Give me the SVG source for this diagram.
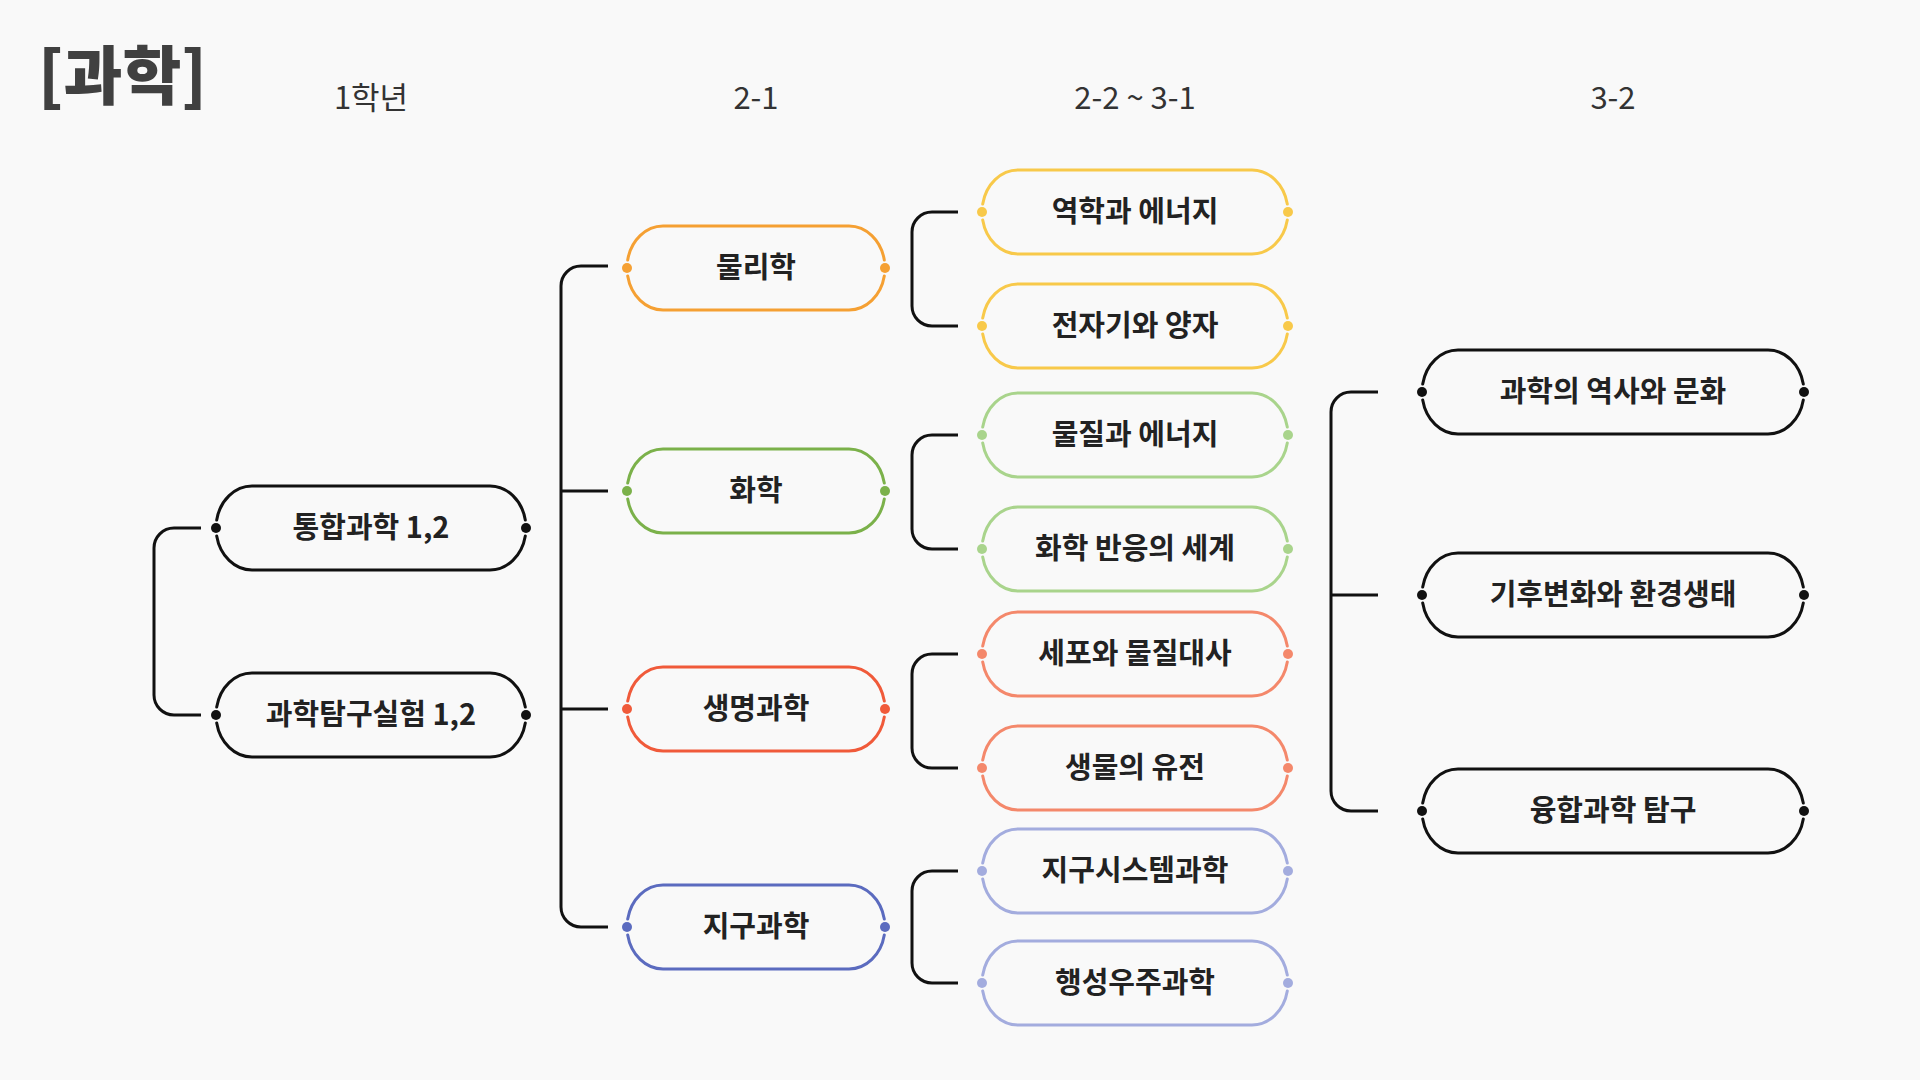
<svg xmlns="http://www.w3.org/2000/svg" width="1920" height="1080" viewBox="0 0 1920 1080">
<style>
.bg{fill:#f9f9f9}
.title{font-family:"Noto Sans CJK KR","Noto Sans",sans-serif;font-weight:900;font-size:64px;fill:#404040}
.hdr{font-family:"Noto Sans CJK KR","Noto Sans",sans-serif;font-weight:400;font-size:31px;fill:#333;text-anchor:middle}
.lbl{font-family:"Noto Sans CJK KR","Noto Sans",sans-serif;font-weight:700;font-size:29px;fill:#222;text-anchor:middle}
.pill{fill:none;stroke-width:3;stroke-linecap:round}
.conn{fill:none;stroke:#111;stroke-width:3}
.k{stroke:#111}.kf{fill:#111}
.or{stroke:#f5a033}.orf{fill:#f5a033}
.gr{stroke:#7bb14a}.grf{fill:#7bb14a}
.rd{stroke:#f05a3a}.rdf{fill:#f05a3a}
.bl{stroke:#5b6bbf}.blf{fill:#5b6bbf}
.ye{stroke:#f8c94a}.yef{fill:#f8c94a}
.lg{stroke:#a9d48c}.lgf{fill:#a9d48c}
.sa{stroke:#f4886b}.saf{fill:#f4886b}
.lv{stroke:#a3acde}.lvf{fill:#a3acde}
</style>
<rect class="bg" x="0" y="0" width="1920" height="1080"/>
<text class="title" x="38" y="99">[과학]</text>
<g id="headers">
<text class="hdr" x="371" y="109">1학년</text>
<text class="hdr" x="756" y="109">2-1</text>
<text class="hdr" x="1135" y="109">2-2 ~ 3-1</text>
<text class="hdr" x="1613" y="109">3-2</text>
</g>
<g id="connectors">
<path class="conn" d="M201 528H174A20 20 0 0 0 154 548V695A20 20 0 0 0 174 715H201"/>
<path class="conn" d="M608 266H581A20 20 0 0 0 561 286V907A20 20 0 0 0 581 927H608M561 491H608M561 709H608"/>
<path class="conn" d="M958 212H932A20 20 0 0 0 912 232V306A20 20 0 0 0 932 326H958"/>
<path class="conn" d="M958 435H932A20 20 0 0 0 912 455V529A20 20 0 0 0 932 549H958"/>
<path class="conn" d="M958 654H932A20 20 0 0 0 912 674V748A20 20 0 0 0 932 768H958"/>
<path class="conn" d="M958 871H932A20 20 0 0 0 912 891V963A20 20 0 0 0 932 983H958"/>
<path class="conn" d="M1378 392H1351A20 20 0 0 0 1331 412V791A20 20 0 0 0 1351 811H1378M1331 595H1378"/>
</g>
<g id="n-tonghap">
<path class="pill k" d="M216.7 520A36 42 0 0 1 252 486H490A36 42 0 0 1 525.3 520M216.7 536A36 42 0 0 0 252 570H490A36 42 0 0 0 525.3 536"/>
<circle class="kf" cx="216" cy="528" r="5"/><circle class="kf" cx="526" cy="528" r="5"/>
<text class="lbl" x="371" y="538">통합과학 1,2</text>
</g>
<g id="n-tamgu">
<path class="pill k" d="M216.7 707A36 42 0 0 1 252 673H490A36 42 0 0 1 525.3 707M216.7 723A36 42 0 0 0 252 757H490A36 42 0 0 0 525.3 723"/>
<circle class="kf" cx="216" cy="715" r="5"/><circle class="kf" cx="526" cy="715" r="5"/>
<text class="lbl" x="371" y="725">과학탐구실험 1,2</text>
</g>
<g id="n-physics">
<path class="pill or" d="M627.7 260A36 42 0 0 1 663 226H849A36 42 0 0 1 884.3 260M627.7 276A36 42 0 0 0 663 310H849A36 42 0 0 0 884.3 276"/>
<circle class="orf" cx="627" cy="268" r="5"/><circle class="orf" cx="885" cy="268" r="5"/>
<text class="lbl" x="756" y="278">물리학</text>
</g>
<g id="n-chem">
<path class="pill gr" d="M627.7 483A36 42 0 0 1 663 449H849A36 42 0 0 1 884.3 483M627.7 499A36 42 0 0 0 663 533H849A36 42 0 0 0 884.3 499"/>
<circle class="grf" cx="627" cy="491" r="5"/><circle class="grf" cx="885" cy="491" r="5"/>
<text class="lbl" x="756" y="501">화학</text>
</g>
<g id="n-bio">
<path class="pill rd" d="M627.7 701A36 42 0 0 1 663 667H849A36 42 0 0 1 884.3 701M627.7 717A36 42 0 0 0 663 751H849A36 42 0 0 0 884.3 717"/>
<circle class="rdf" cx="627" cy="709" r="5"/><circle class="rdf" cx="885" cy="709" r="5"/>
<text class="lbl" x="756" y="719">생명과학</text>
</g>
<g id="n-earth">
<path class="pill bl" d="M627.7 919A36 42 0 0 1 663 885H849A36 42 0 0 1 884.3 919M627.7 935A36 42 0 0 0 663 969H849A36 42 0 0 0 884.3 935"/>
<circle class="blf" cx="627" cy="927" r="5"/><circle class="blf" cx="885" cy="927" r="5"/>
<text class="lbl" x="756" y="937">지구과학</text>
</g>
<g id="n-mech">
<path class="pill ye" d="M982.7 204A36 42 0 0 1 1018 170H1252A36 42 0 0 1 1287.3 204M982.7 220A36 42 0 0 0 1018 254H1252A36 42 0 0 0 1287.3 220"/>
<circle class="yef" cx="982" cy="212" r="5"/><circle class="yef" cx="1288" cy="212" r="5"/>
<text class="lbl" x="1135" y="222">역학과 에너지</text>
</g>
<g id="n-em">
<path class="pill ye" d="M982.7 318A36 42 0 0 1 1018 284H1252A36 42 0 0 1 1287.3 318M982.7 334A36 42 0 0 0 1018 368H1252A36 42 0 0 0 1287.3 334"/>
<circle class="yef" cx="982" cy="326" r="5"/><circle class="yef" cx="1288" cy="326" r="5"/>
<text class="lbl" x="1135" y="336">전자기와 양자</text>
</g>
<g id="n-matter">
<path class="pill lg" d="M982.7 427A36 42 0 0 1 1018 393H1252A36 42 0 0 1 1287.3 427M982.7 443A36 42 0 0 0 1018 477H1252A36 42 0 0 0 1287.3 443"/>
<circle class="lgf" cx="982" cy="435" r="5"/><circle class="lgf" cx="1288" cy="435" r="5"/>
<text class="lbl" x="1135" y="445">물질과 에너지</text>
</g>
<g id="n-reaction">
<path class="pill lg" d="M982.7 541A36 42 0 0 1 1018 507H1252A36 42 0 0 1 1287.3 541M982.7 557A36 42 0 0 0 1018 591H1252A36 42 0 0 0 1287.3 557"/>
<circle class="lgf" cx="982" cy="549" r="5"/><circle class="lgf" cx="1288" cy="549" r="5"/>
<text class="lbl" x="1135" y="559">화학 반응의 세계</text>
</g>
<g id="n-cell">
<path class="pill sa" d="M982.7 646A36 42 0 0 1 1018 612H1252A36 42 0 0 1 1287.3 646M982.7 662A36 42 0 0 0 1018 696H1252A36 42 0 0 0 1287.3 662"/>
<circle class="saf" cx="982" cy="654" r="5"/><circle class="saf" cx="1288" cy="654" r="5"/>
<text class="lbl" x="1135" y="664">세포와 물질대사</text>
</g>
<g id="n-genetics">
<path class="pill sa" d="M982.7 760A36 42 0 0 1 1018 726H1252A36 42 0 0 1 1287.3 760M982.7 776A36 42 0 0 0 1018 810H1252A36 42 0 0 0 1287.3 776"/>
<circle class="saf" cx="982" cy="768" r="5"/><circle class="saf" cx="1288" cy="768" r="5"/>
<text class="lbl" x="1135" y="778">생물의 유전</text>
</g>
<g id="n-earthsys">
<path class="pill lv" d="M982.7 863A36 42 0 0 1 1018 829H1252A36 42 0 0 1 1287.3 863M982.7 879A36 42 0 0 0 1018 913H1252A36 42 0 0 0 1287.3 879"/>
<circle class="lvf" cx="982" cy="871" r="5"/><circle class="lvf" cx="1288" cy="871" r="5"/>
<text class="lbl" x="1135" y="881">지구시스템과학</text>
</g>
<g id="n-space">
<path class="pill lv" d="M982.7 975A36 42 0 0 1 1018 941H1252A36 42 0 0 1 1287.3 975M982.7 991A36 42 0 0 0 1018 1025H1252A36 42 0 0 0 1287.3 991"/>
<circle class="lvf" cx="982" cy="983" r="5"/><circle class="lvf" cx="1288" cy="983" r="5"/>
<text class="lbl" x="1135" y="993">행성우주과학</text>
</g>
<g id="n-history">
<path class="pill k" d="M1422.7 384A36 42 0 0 1 1458 350H1768A36 42 0 0 1 1803.3 384M1422.7 400A36 42 0 0 0 1458 434H1768A36 42 0 0 0 1803.3 400"/>
<circle class="kf" cx="1422" cy="392" r="5"/><circle class="kf" cx="1804" cy="392" r="5"/>
<text class="lbl" x="1613" y="402">과학의 역사와 문화</text>
</g>
<g id="n-climate">
<path class="pill k" d="M1422.7 587A36 42 0 0 1 1458 553H1768A36 42 0 0 1 1803.3 587M1422.7 603A36 42 0 0 0 1458 637H1768A36 42 0 0 0 1803.3 603"/>
<circle class="kf" cx="1422" cy="595" r="5"/><circle class="kf" cx="1804" cy="595" r="5"/>
<text class="lbl" x="1613" y="605">기후변화와 환경생태</text>
</g>
<g id="n-fusion">
<path class="pill k" d="M1422.7 803A36 42 0 0 1 1458 769H1768A36 42 0 0 1 1803.3 803M1422.7 819A36 42 0 0 0 1458 853H1768A36 42 0 0 0 1803.3 819"/>
<circle class="kf" cx="1422" cy="811" r="5"/><circle class="kf" cx="1804" cy="811" r="5"/>
<text class="lbl" x="1613" y="821">융합과학 탐구</text>
</g>
</svg>
